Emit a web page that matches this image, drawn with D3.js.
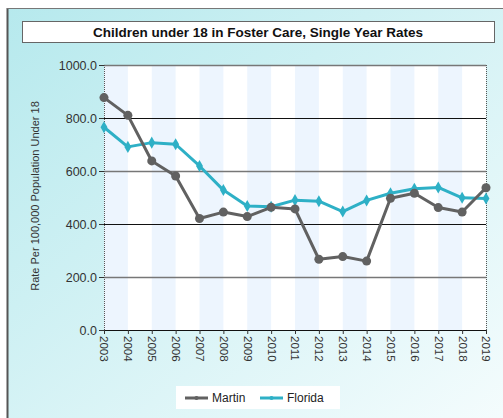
<!DOCTYPE html>
<html>
<head>
<meta charset="utf-8">
<script src="https://cdn.jsdelivr.net/npm/d3@7"></script>
<style>
  body { margin: 0; background: #fff; font-family: "Liberation Sans", Arial, sans-serif; }
  svg { display: block; }
</style>
</head>
<body>
<div id="chart"></div>
<script>
// data
const years = [2003, 2004, 2005, 2006, 2007, 2008, 2009, 2010, 2011, 2012, 2013, 2014, 2015, 2016, 2017, 2018, 2019];
const martin = [877, 810, 638, 581, 421, 445, 428, 463, 457, 267, 277, 260, 497, 516, 462, 445, 537];
const florida = [765, 691, 707, 701, 619, 528, 468, 465, 490, 486, 447, 489, 516, 533, 538, 499, 496];
const yTicks = [0, 200, 400, 600, 800, 1000];

const W = 503, H = 418;
const plot = { left: 104, right: 486, top: 65, bottom: 330 };

const svg = d3.select("#chart").append("svg")
  .attr("width", W)
  .attr("height", H);

// background gradient
const defs = svg.append("defs");
const grad = defs.append("linearGradient")
  .attr("id", "bg")
  .attr("x1", "0%").attr("y1", "0%")
  .attr("x2", "100%").attr("y2", "100%");
grad.append("stop").attr("offset", "0%").attr("stop-color", "#b6e9ed");
grad.append("stop").attr("offset", "100%").attr("stop-color", "#f4fcfd");

svg.append("rect")
  .attr("x", 7).attr("y", 8)
  .attr("width", W - 7).attr("height", H - 8)
  .attr("fill", "url(#bg)");

svg.append("line")
  .attr("x1", 7.5).attr("x2", 7.5).attr("y1", 8).attr("y2", H)
  .attr("stroke", "#555").attr("stroke-width", 2);
svg.append("line")
  .attr("x1", 7).attr("x2", W).attr("y1", 8.5).attr("y2", 8.5)
  .attr("stroke", "#777").attr("stroke-width", 1);

// title
svg.append("rect")
  .attr("x", 22.5).attr("y", 21.5)
  .attr("width", 472).attr("height", 21)
  .attr("fill", "#fff")
  .attr("stroke", "#666");
svg.append("text")
  .attr("x", 258).attr("y", 37)
  .attr("text-anchor", "middle")
  .style("font-size", "13.5px")
  .style("font-weight", "bold")
  .attr("fill", "#111")
  .text("Children under 18 in Foster Care, Single Year Rates");

// scales
const x = d3.scaleLinear()
  .domain(d3.extent(years))
  .range([plot.left, plot.right]);

const y = d3.scaleLinear()
  .domain([0, 1000])
  .range([plot.bottom, plot.top]);

// plot background + bands
svg.append("rect")
  .attr("x", plot.left).attr("y", plot.top)
  .attr("width", plot.right - plot.left).attr("height", plot.bottom - plot.top)
  .attr("fill", "#fff");

svg.selectAll(".band")
  .data(years.slice(0, -1).filter((d, i) => i % 2 === 0))
  .join("rect")
  .attr("class", "band")
  .attr("x", d => x(d))
  .attr("y", plot.top)
  .attr("width", d => x(d + 1) - x(d))
  .attr("height", plot.bottom - plot.top)
  .attr("fill", "#edf5fe");

// gridlines
svg.selectAll(".grid")
  .data(yTicks.filter(d => d > 0))
  .join("line")
  .attr("class", "grid")
  .attr("x1", plot.left).attr("x2", plot.right)
  .attr("y1", d => Math.round(y(d)) + 0.5)
  .attr("y2", d => Math.round(y(d)) + 0.5)
  .attr("stroke", d => (d / 200) % 2 === 1 || d === 1000 ? "#777" : "#111")
  .attr("stroke-width", d => (d / 200) % 2 === 1 || d === 1000 ? 1.6 : 1);

// dotted side lines
[plot.left, plot.right].forEach(px => {
  svg.append("line")
    .attr("x1", px + 0.5).attr("x2", px + 0.5)
    .attr("y1", plot.top).attr("y2", plot.bottom)
    .attr("stroke", "#555")
    .attr("stroke-dasharray", "1,1");
});

// y axis
const yAxis = svg.append("g")
  .attr("transform", `translate(${plot.left},0)`)
  .call(d3.axisLeft(y).tickValues(yTicks).tickFormat(d3.format(".1f")).tickSize(5).tickPadding(2));
yAxis.select(".domain").remove();
yAxis.selectAll("line").attr("stroke", "#333");
yAxis.selectAll("text")
  .style("font-size", "12.5px")
  .style("font-family", "Liberation Sans, Arial, sans-serif")
  .attr("fill", "#333");

// x axis
const xAxis = svg.append("g")
  .attr("transform", `translate(0,${plot.bottom})`)
  .call(d3.axisBottom(x).tickValues(years).tickFormat(d3.format("d")).tickSize(4));
xAxis.select(".domain")
  .attr("d", `M${plot.left},0.5H${plot.right}`)
  .attr("stroke", "#111");
xAxis.selectAll("line").attr("stroke", "#333");
xAxis.selectAll("text")
  .attr("transform", "rotate(90)")
  .attr("x", 6)
  .attr("y", 0)
  .attr("dy", "0.35em")
  .attr("text-anchor", "start")
  .style("font-size", "11.5px")
  .style("font-family", "Liberation Sans, Arial, sans-serif")
  .attr("fill", "#333");

// y label
svg.append("text")
  .attr("transform", "rotate(-90)")
  .attr("x", -196)
  .attr("y", 39)
  .attr("text-anchor", "middle")
  .style("font-size", "11px")
  .attr("fill", "#333")
  .text("Rate Per 100,000 Population Under 18");

// lines
const series = [
  { name: "Martin", values: martin, color: "#616161", marker: "circle" },
  { name: "Florida", values: florida, color: "#2eb0c6", marker: "diamond" }
];

const line = d3.line()
  .x((d, i) => x(years[i]))
  .y(d => y(d));

series.slice().reverse().forEach(s => {
  svg.append("path")
    .datum(s.values)
    .attr("fill", "none")
    .attr("stroke", s.color)
    .attr("stroke-width", 3)
    .attr("stroke-linejoin", "round")
    .attr("d", line);

  const sym = d3.symbol()
    .type(s.marker === "circle" ? d3.symbolCircle : d3.symbolDiamond)
    .size(s.marker === "circle" ? 64 : 42);

  svg.selectAll(".pt-" + s.name)
    .data(s.values)
    .join("path")
    .attr("class", "pt-" + s.name)
    .attr("transform", (d, i) => `translate(${x(years[i])},${y(d)})`)
    .attr("d", sym)
    .attr("fill", s.color);
});

// legend
const legend = svg.append("g");
legend.append("rect")
  .attr("x", 176).attr("y", 386)
  .attr("width", 164).attr("height", 23)
  .attr("fill", "#fff");

const legendX = [185, 260];
series.forEach((s, i) => {
  const lx = legendX[i];
  legend.append("line")
    .attr("x1", lx).attr("x2", lx + 23)
    .attr("y1", 398).attr("y2", 398)
    .attr("stroke", s.color)
    .attr("stroke-width", 3);
  legend.append("path")
    .attr("transform", `translate(${lx + 11.5},398)`)
    .attr("d", d3.symbol().type(d3.symbolCircle).size(14))
    .attr("fill", s.color);
  legend.append("text")
    .attr("x", lx + 27)
    .attr("y", 402)
    .style("font-size", "12px")
    .attr("fill", "#222")
    .text(s.name);
});
</script>
</body>
</html>
